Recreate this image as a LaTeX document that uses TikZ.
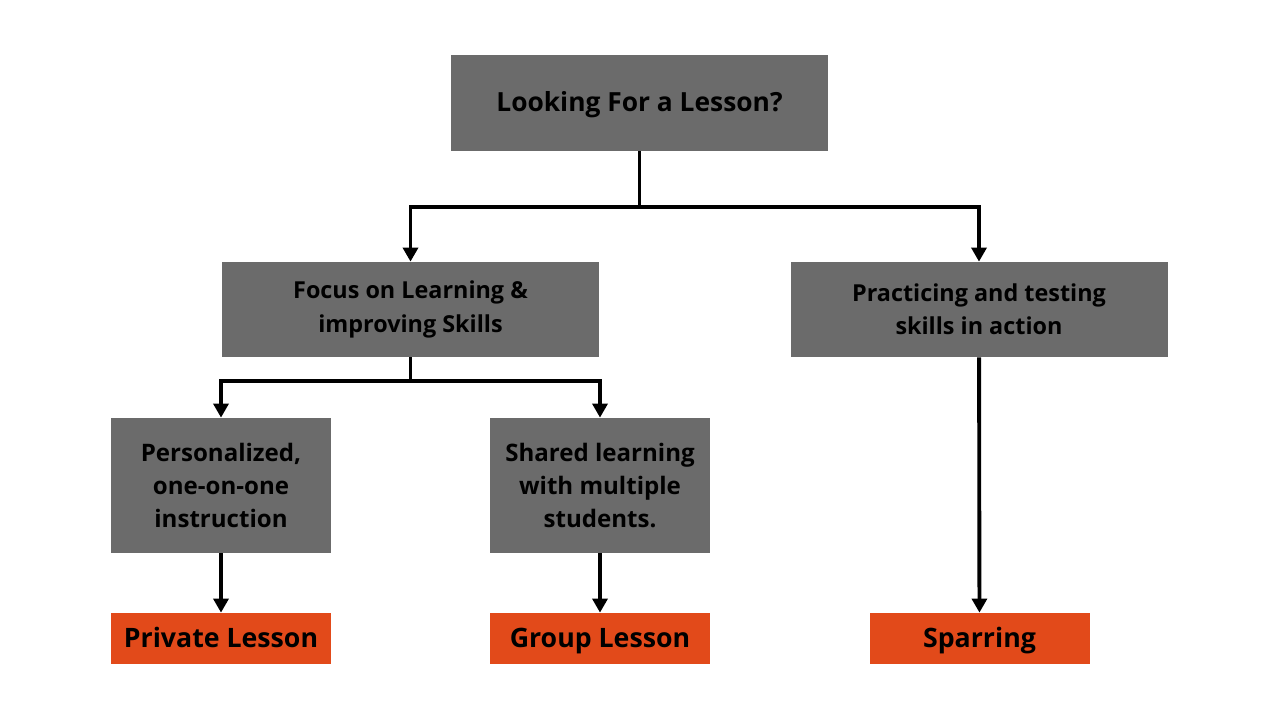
\documentclass[tikz,border=0pt]{standalone}
\usepackage{fontspec}
\setmainfont{Open Sans}
\usetikzlibrary{arrows.meta}
\definecolor{boxgray}{HTML}{6B6B6B}
\definecolor{lessonorange}{HTML}{E24A1A}
\tikzset{
    question/.style={fill=boxgray, text=black, font=\bfseries\fontsize{13.3}{19}\selectfont,
        align=center, minimum width=7.54cm, minimum height=1.9cm, inner sep=0pt},
    choice/.style={fill=boxgray, text=black, font=\bfseries\fontsize{13.7}{19}\selectfont,
        align=center, minimum width=4.4cm, minimum height=2.7cm, inner sep=0pt},
    lesson/.style={fill=lessonorange, text=black, font=\bfseries\fontsize{15.2}{16}\selectfont,
        minimum width=4.4cm, minimum height=1.02cm, inner sep=0pt,
        text height=12pt, text depth=2pt},
    link/.style={line width=2.2pt, -{Triangle[length=8pt, width=8.5pt]}}
}
\begin{document}
\begin{tikzpicture}
    \useasboundingbox (0,0) rectangle (25.6,-14.38);

    % Frage oben
    \node[question, minimum height=1.92cm, font=\bfseries\fontsize{15}{19}\selectfont,
        text height=12.5pt, text depth=2.8pt] (start) at (12.79,-2.06) {Looking For a Lesson?};

    % zweite Ebene
    \node[question] (learning) at (8.21,-6.19) {Focus on Learning \&\\improving Skills};
    \node[question] (practice) at (19.58,-6.19) {Practicing and testing\\skills in action};

    % dritte Ebene
    \node[choice] (personal) at (4.42,-9.71) {Personalized,\\one-on-one\\instruction};
    \node[choice] (shared) at (12.0,-9.71) {Shared learning\\with multiple\\students.};

    % Ergebnisse
    \node[lesson] (private) at (4.42,-12.77) {Private Lesson};
    \node[lesson] (group) at (12.0,-12.77) {Group Lesson};
    \node[lesson] (sparring) at (19.59,-12.77) {Sparring};

    % Verbindungen
    \coordinate (split1) at (12.79,-4.14);
    \coordinate (split2) at (8.21,-7.62);
    \draw[link] (start.south) -- (split1) -| (learning.north);
    \draw[link] (split1) -| (practice.north);
    \draw[link] (learning.south) -- (split2) -| (personal.north);
    \draw[link] (split2) -| (shared.north);
    \draw[link] (personal) -- (private);
    \draw[link] (shared) -- (group);
    \draw[link] (practice) -- (sparring);
\end{tikzpicture}
\end{document}
